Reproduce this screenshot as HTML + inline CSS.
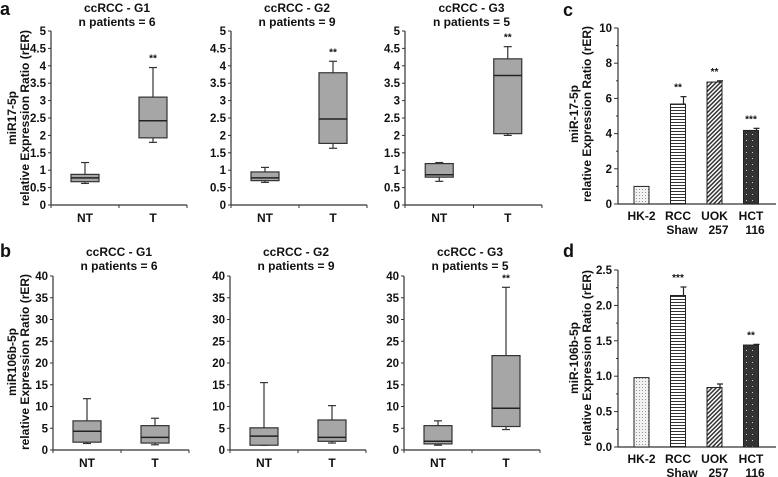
<!DOCTYPE html>
<html><head><meta charset="utf-8"><style>
body{margin:0;background:#fff;}
svg{display:block;font-family:"Liberation Sans",Arial,sans-serif;font-weight:bold;}
</style></head><body>
<svg id="fig" width="778" height="477" viewBox="0 0 778 477">
<defs>
<pattern id="pDots" width="3" height="3" patternUnits="userSpaceOnUse"><rect width="3" height="3" fill="#f2f2f2"/><rect width="1" height="1" fill="#999"/></pattern>
<pattern id="pHoriz" width="4" height="3" patternUnits="userSpaceOnUse"><rect width="4" height="3" fill="#fff"/><rect y="2" width="4" height="1" fill="#333"/></pattern>
<pattern id="pDiag" width="3" height="3" patternUnits="userSpaceOnUse" patternTransform="rotate(45)"><rect width="3" height="3" fill="#fff"/><rect width="1.5" height="3" fill="#333"/></pattern>
<pattern id="pDark" width="6" height="6" patternUnits="userSpaceOnUse"><rect width="6" height="6" fill="#333"/><rect x="2" y="2" width="1" height="1" fill="#ccc"/></pattern>
</defs>
</svg>
<script>
// ---- data ----
const boxGroups = ["NT","T"];
const aTitles = ["ccRCC - G1","ccRCC - G2","ccRCC - G3"];
const aPatients = ["n patients = 6","n patients = 9","n patients = 5"];
// [min,q1,median,q3,max]
const a1NT=[0.62,0.67,0.78,0.88,1.22], a1T=[1.8,1.93,2.42,3.1,3.95];
const a2NT=[0.65,0.70,0.78,0.95,1.08], a2T=[1.63,1.77,2.47,3.8,4.13];
const a3NT=[0.68,0.80,0.87,1.19,1.22], a3T=[2.0,2.05,3.72,4.2,4.55];
const b1NT=[1.5,1.8,4.3,6.7,11.8], b1T=[1.2,1.6,2.9,5.6,7.3];
const b2NT=[1.1,1.1,3.2,5.1,15.5], b2T=[1.6,2.0,2.9,6.9,10.2];
const b3NT=[1.1,1.4,2.0,5.6,6.7], b3T=[4.7,5.4,9.6,21.7,37.4];
const aTicks=["0","0.5","1","1.5","2","2.5","3","3.5","4","4.5","5"];
const bTicks=["0","5","10","15","20","25","30","35","40"];
const cellLines=[["HK-2",""],["RCC","Shaw"],["UOK","257"],["HCT","116"]];
const cValues=[1.0,5.68,6.93,4.18], cErr=[0,0.42,0.07,0.12], cStars=["","**","**","***"];
const dValues=[0.98,2.14,0.84,1.44], dErr=[0,0.12,0.05,0.01], dStars=["","***","","**"];
const cTicks=["0","2","4","6","8","10"];
const dTicks=["0.0","0.5","1.0","1.5","2.0","2.5"];
const barFills=["url(#pDots)","url(#pHoriz)","url(#pDiag)","url(#pDark)"];

const svg=document.getElementById('fig');
const NS="http://www.w3.org/2000/svg";
function mk(tag,attrs,parent,text){const e=document.createElementNS(NS,tag);for(const k in attrs)e.setAttribute(k,attrs[k]);if(text!==undefined)e.textContent=text;(parent||svg).appendChild(e);return e;}

function txt(x,y,s,size,anchor,parent,name){
  const t=mk('text',{x:x,y:y,'font-size':size,'text-anchor':anchor||'middle',fill:'#111'},parent,s);
  
  
  return t;
}

function boxPanel(name,x0,x1,yTop,yBot,ticks,maxV,nt,t,stars,title1,title2,titleY){
  const g=mk('g',{});
  
  
  const ys=v=>yBot-(v/maxV)*(yBot-yTop);
  const xs=i=>x0+(x1-x0)*(0.25+0.5*i);
  txt((x0+x1)/2-2,titleY,title1,12,'middle',g,'panel-title');
  txt((x0+x1)/2-2,titleY+14,title2,12,'middle',g,'panel-subtitle');
  mk('line',{x1:x0,y1:yTop,x2:x0,y2:yBot,stroke:'#333','stroke-width':1.2},g);
  mk('line',{x1:x0,y1:yBot,x2:x1,y2:yBot,stroke:'#333','stroke-width':1.2},g);
  ticks.forEach((s,i)=>{const v=parseFloat(s);const y=ys(v);
    mk('line',{x1:x0-3,y1:y,x2:x0,y2:y,stroke:'#333'},g);
    txt(x0-5,y+4,s,11.5,'end',g,'y-tick-label');});
  [x0,(x0+x1)/2,x1].forEach(x=>mk('line',{x1:x,y1:yBot,x2:x,y2:yBot+3,stroke:'#333'},g));
  [nt,t].forEach((d,i)=>{
    const cx=xs(i),w=28;
    const bg=mk('g',{},g);
    
    
    mk('line',{x1:cx,y1:ys(d[0]),x2:cx,y2:ys(d[4]),stroke:'#333','stroke-width':1.2},bg);
    mk('line',{x1:cx-4,y1:ys(d[4]),x2:cx+4,y2:ys(d[4]),stroke:'#333','stroke-width':1.2},bg);
    mk('line',{x1:cx-4,y1:ys(d[0]),x2:cx+4,y2:ys(d[0]),stroke:'#333','stroke-width':1.2},bg);
    mk('rect',{x:cx-w/2,y:ys(d[3]),width:w,height:Math.max(1,ys(d[1])-ys(d[3])),fill:'#a6a6a6',stroke:'#333','stroke-width':1.2},bg);
    mk('line',{x1:cx-w/2,y1:ys(d[2]),x2:cx+w/2,y2:ys(d[2]),stroke:'#222','stroke-width':1.5},bg);
    txt(cx,yBot+17,boxGroups[i],12,'middle',g,'x-tick-label');
    if(i===1&&stars) txt(cx,ys(d[4])-6,stars,10,'middle',g,'significance-stars');
  });
  return g;
}

// panel a
const aData=[[a1NT,a1T],[a2NT,a2T],[a3NT,a3T]];
const aX=[[51,187],[231,367],[405,542]];
aData.forEach((d,i)=>boxPanel('panel-a-g'+(i+1),aX[i][0],aX[i][1],31,205,aTicks,5,d[0],d[1],'**',aTitles[i],aPatients[i],12));
const bData=[[b1NT,b1T],[b2NT,b2T],[b3NT,b3T]];
const bX=[[53,189],[230,366],[404,540]];
bData.forEach((d,i)=>boxPanel('panel-b-g'+(i+1),bX[i][0],bX[i][1],276,450,bTicks,40,d[0],d[1],i===2?'**':'',aTitles[i],aPatients[i],256));

function barPanel(name,x0,x1,yTop,yBot,ticks,maxV,vals,errs,stars){
  const g=mk('g',{});
  
  
  const ys=v=>yBot-(v/maxV)*(yBot-yTop);
  const xs=i=>x0+23.5+i*36.5;
  mk('line',{x1:x0,y1:yTop,x2:x0,y2:yBot,stroke:'#333','stroke-width':1.2},g);
  mk('line',{x1:x0,y1:yBot,x2:x1,y2:yBot,stroke:'#333','stroke-width':1.2},g);
  ticks.forEach((s,i)=>{const v=parseFloat(s);const y=ys(v);
    mk('line',{x1:x0-4,y1:y,x2:x0,y2:y,stroke:'#333'},g);
    if(i<ticks.length-1){const v2=(v+parseFloat(ticks[i+1]))/2;mk('line',{x1:x0-2,y1:ys(v2),x2:x0,y2:ys(v2),stroke:'#333'},g);}
    txt(x0-6,y+4,s,11.5,'end',g,'y-tick-label');});
  vals.forEach((v,i)=>{
    const cx=xs(i),w=15;
    const r=mk('rect',{x:cx-w/2,y:ys(v),width:w,height:yBot-ys(v),fill:barFills[i],stroke:'#222','stroke-width':1},g);
    
    
    if(errs[i]>0){mk('line',{x1:cx+w/2-2,y1:ys(v),x2:cx+w/2-2,y2:ys(v+errs[i]),stroke:'#222','stroke-width':1.2},g);
      mk('line',{x1:cx+w/2-5,y1:ys(v+errs[i]),x2:cx+w/2+1,y2:ys(v+errs[i]),stroke:'#222','stroke-width':1.2},g);}
    if(stars[i]) txt(cx,ys(v+errs[i])-6,stars[i],10,'middle',g,'significance-stars');
    txt(cx,yBot+16,cellLines[i][0],12,'middle',g,'x-tick-label');
    if(cellLines[i][1]) txt(cx+4,yBot+30,cellLines[i][1],12,'middle',g,'x-tick-label');
  });
}
barPanel('panel-c',618,776,28,204,cTicks,10,cValues,cErr,cStars);
barPanel('panel-d',618,776,270,447,dTicks,2.5,dValues,dErr,dStars);

// y-axis titles
function ytitle(x,y,l1,l2,name){
  const t1=txt(0,0,l1,12,'middle',svg,name+'-line1');t1.setAttribute('transform','translate('+x+','+y+') rotate(-90)');
  const t2=txt(0,0,l2,12,'middle',svg,name+'-line2');t2.setAttribute('transform','translate('+(x+13)+','+y+') rotate(-90)');
}
ytitle(16,118,'miR17-5p','relative Expression Ratio (rER)','y-axis-title-a');
ytitle(16,362,'miR106b-5p','relative Expression Ratio (rER)','y-axis-title-b');
ytitle(578,114,'miR-17-5p','relative Expression Ratio (rER)','y-axis-title-c');
ytitle(578,358,'miR-106b-5p','relative Expression Ratio (rER)','y-axis-title-d');
// panel letters
txt(0,15,'a',18,'start',svg,'panel-letter-a');
txt(0,257,'b',18,'start',svg,'panel-letter-b');
txt(563,16,'c',18,'start',svg,'panel-letter-c');
txt(563,257,'d',18,'start',svg,'panel-letter-d');
</script>
</body></html>
